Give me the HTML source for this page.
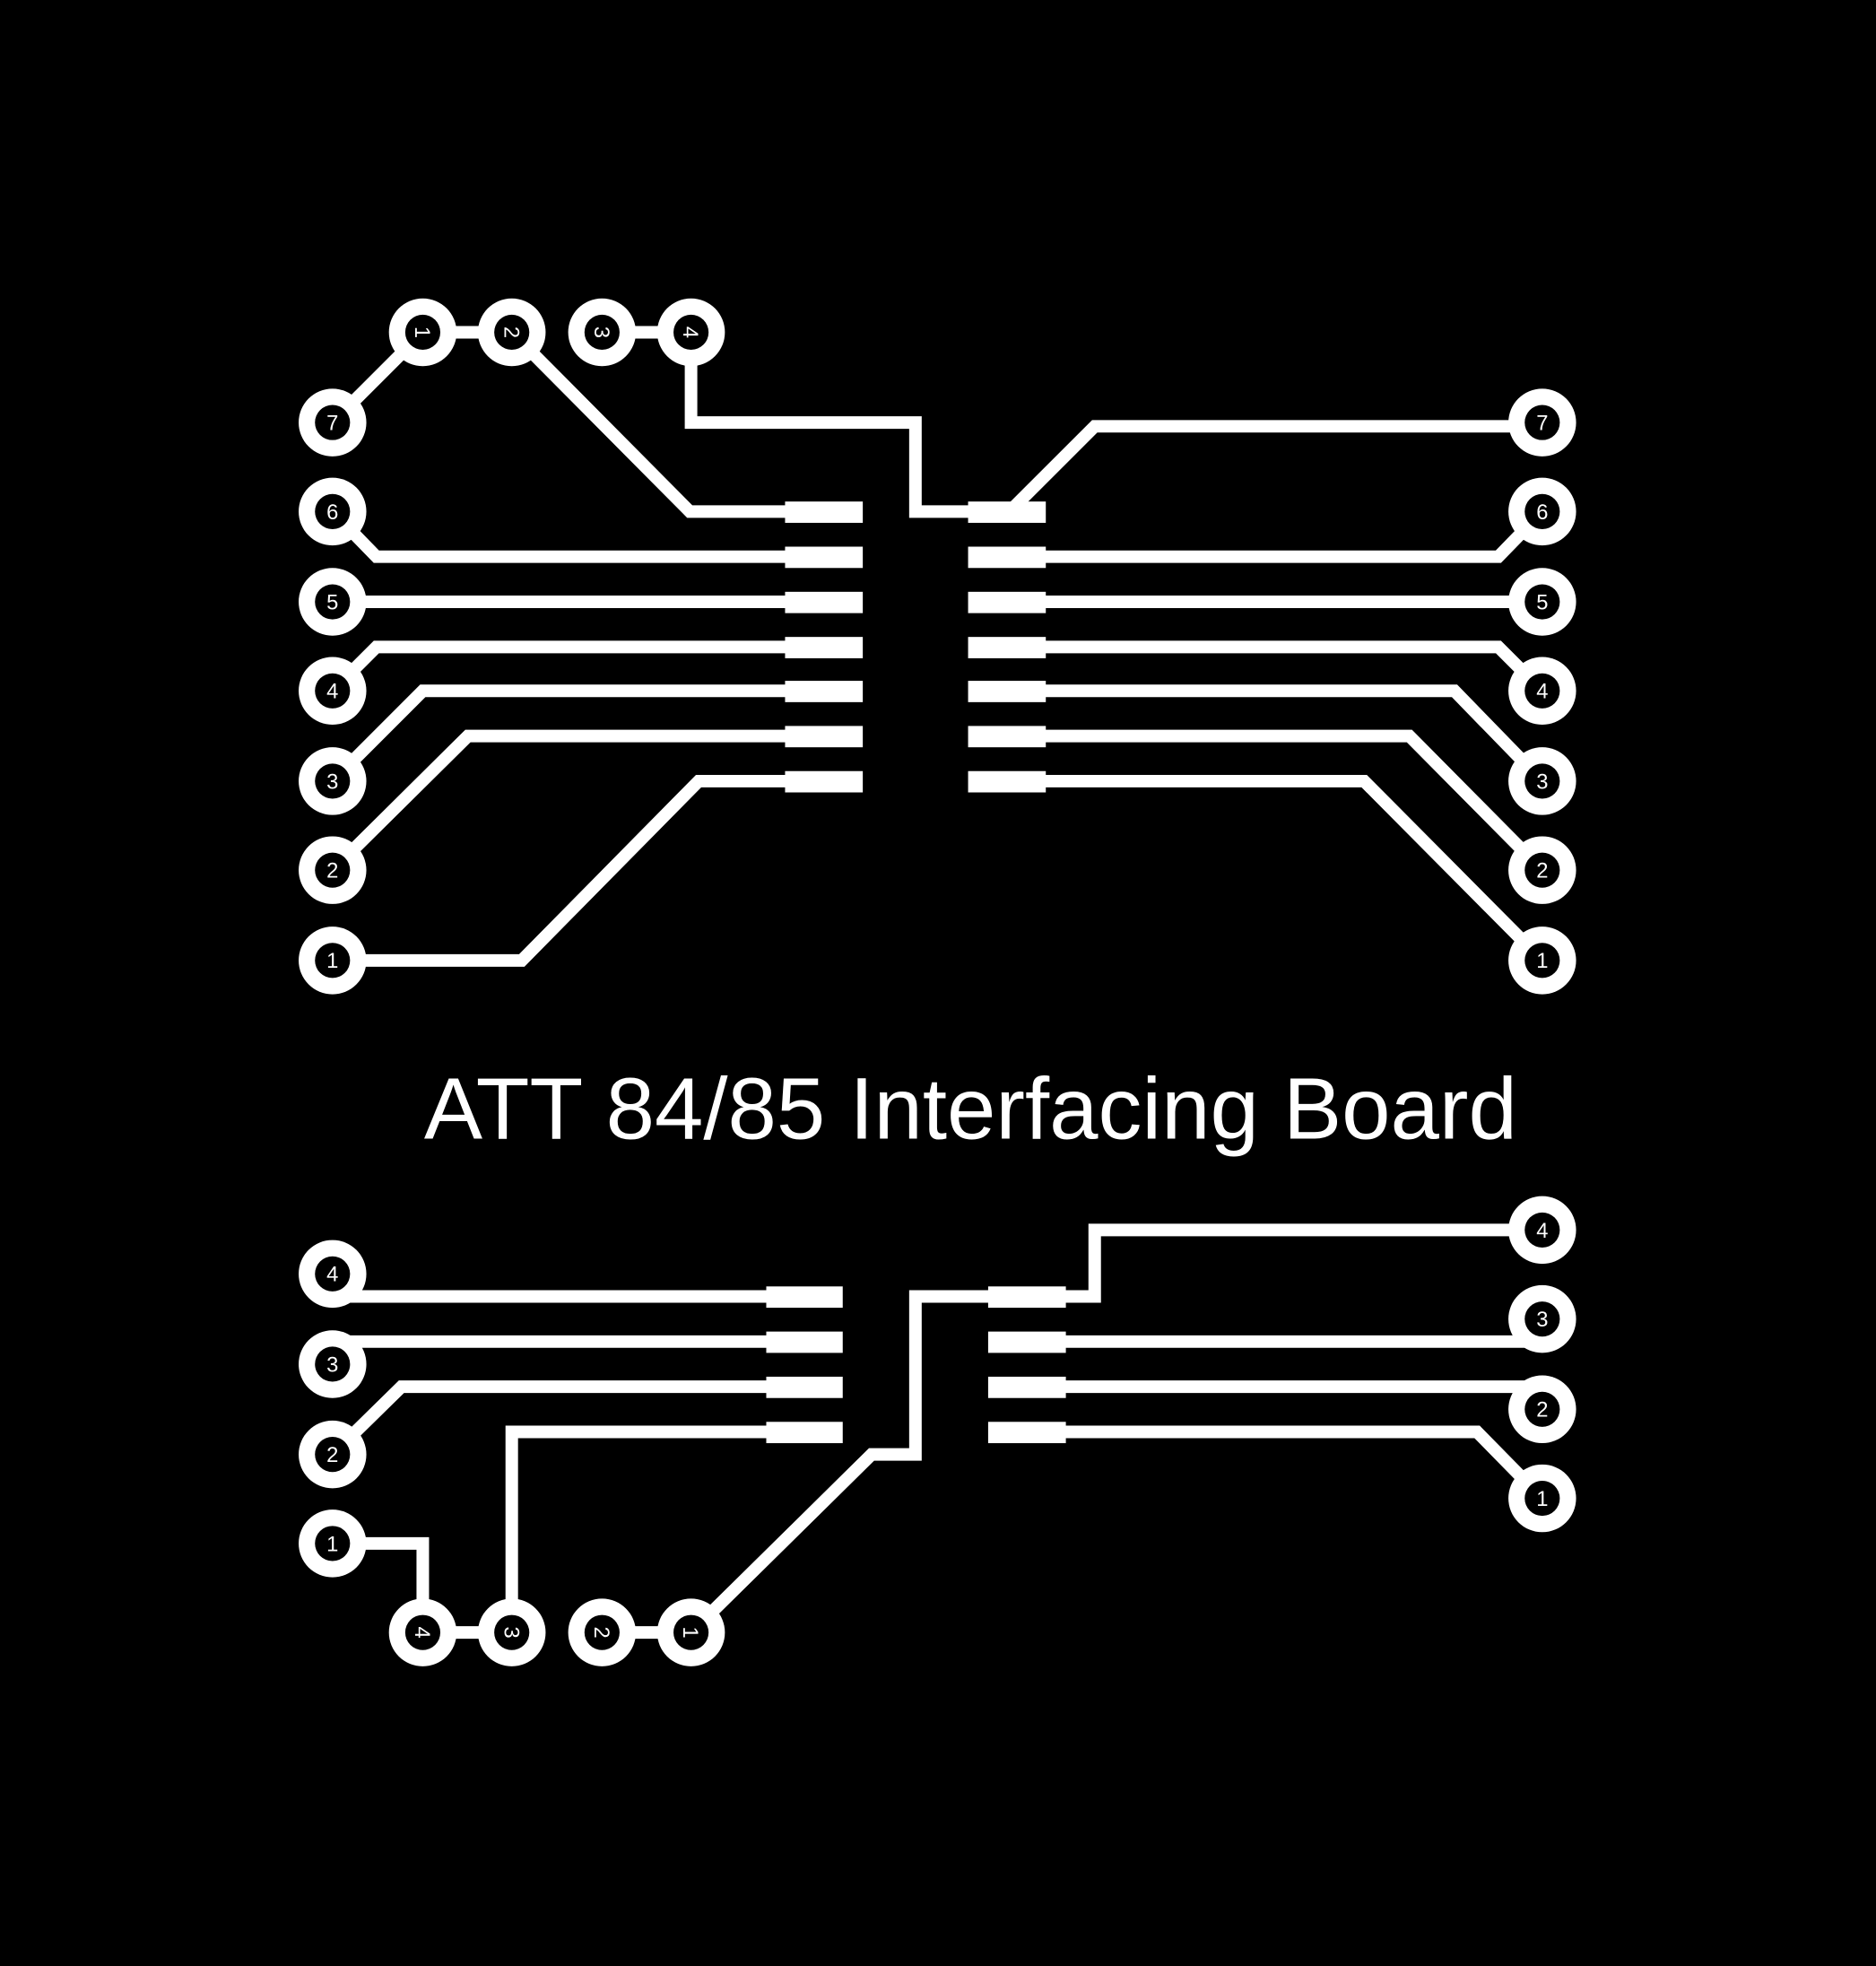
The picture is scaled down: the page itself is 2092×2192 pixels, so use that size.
<!DOCTYPE html>
<html><head><meta charset="utf-8"><style>html,body{margin:0;padding:0;background:#000}svg{display:block}</style></head>
<body>
<svg width="2092" height="2192" viewBox="0 0 1496 1568" xmlns="http://www.w3.org/2000/svg">
<rect width="1496" height="1568" fill="#000"/>
<g stroke="#fff" stroke-width="10" fill="none" stroke-linejoin="miter">
<polyline points="265,337 337,265 408,265 550,408 630,408"/>
<polyline points="480,265 551,265 551,337 730,337 730,408 780,408"/>
<polyline points="805,408 873,340 1230,340"/>
<polyline points="265,408 300,444 630,444"/>
<polyline points="265,480 630,480"/>
<polyline points="265,551 300,516 630,516"/>
<polyline points="265,623 337,551 630,551"/>
<polyline points="265,694 373,587 630,587"/>
<polyline points="265,766 416,766 557,623 630,623"/>
<polyline points="1230,408 1195,444 830,444"/>
<polyline points="1230,480 830,480"/>
<polyline points="1230,551 1195,516 830,516"/>
<polyline points="1230,623 1160,551 830,551"/>
<polyline points="1230,694 1124,587 830,587"/>
<polyline points="1230,766 1088,623 830,623"/>
<polyline points="265,1034 615,1034"/>
<polyline points="265,1070 615,1070"/>
<polyline points="265,1160 320,1106 615,1106"/>
<polyline points="265,1231 337,1231 337,1302 408,1302 408,1142 615,1142"/>
<polyline points="480,1302 551,1302 695,1160 730,1160 730,1034 795,1034"/>
<polyline points="840,1034 873,1034 873,981 1230,981"/>
<polyline points="1230,1070 845,1070"/>
<polyline points="1230,1106 845,1106"/>
<polyline points="1230,1195 1178,1142 845,1142"/>
</g>
<g fill="#fff">
<rect x="626" y="400" width="62" height="17"/><rect x="626" y="436" width="62" height="17"/><rect x="626" y="472" width="62" height="17"/><rect x="626" y="508" width="62" height="17"/><rect x="626" y="543" width="62" height="17"/><rect x="626" y="579" width="62" height="17"/><rect x="626" y="615" width="62" height="17"/>
<rect x="772" y="400" width="62" height="17"/><rect x="772" y="436" width="62" height="17"/><rect x="772" y="472" width="62" height="17"/><rect x="772" y="508" width="62" height="17"/><rect x="772" y="543" width="62" height="17"/><rect x="772" y="579" width="62" height="17"/><rect x="772" y="615" width="62" height="17"/>
<rect x="611" y="1026" width="61" height="17"/><rect x="611" y="1062" width="61" height="17"/><rect x="611" y="1098" width="61" height="17"/><rect x="611" y="1134" width="61" height="17"/>
<rect x="788" y="1026" width="62" height="17"/><rect x="788" y="1062" width="62" height="17"/><rect x="788" y="1098" width="62" height="17"/><rect x="788" y="1134" width="62" height="17"/>
</g>
<g font-family="Liberation Sans, sans-serif" font-size="17" text-anchor="middle">
<!-- pads: cx,cy,label,rot -->
<g id="pads"></g>
</g>
<g font-family="Liberation Sans, sans-serif" font-size="17" text-anchor="middle">
<g transform="translate(337,265)"><circle r="27" fill="#fff"/><circle r="14" fill="#000"/><text y="6" fill="#fff" transform="rotate(90)">1</text></g>
<g transform="translate(408,265)"><circle r="27" fill="#fff"/><circle r="14" fill="#000"/><text y="6" fill="#fff" transform="rotate(90)">2</text></g>
<g transform="translate(480,265)"><circle r="27" fill="#fff"/><circle r="14" fill="#000"/><text y="6" fill="#fff" transform="rotate(90)">3</text></g>
<g transform="translate(551,265)"><circle r="27" fill="#fff"/><circle r="14" fill="#000"/><text y="6" fill="#fff" transform="rotate(90)">4</text></g>
<g transform="translate(265,337)"><circle r="27" fill="#fff"/><circle r="14" fill="#000"/><text y="6" fill="#fff">7</text></g>
<g transform="translate(265,408)"><circle r="27" fill="#fff"/><circle r="14" fill="#000"/><text y="6" fill="#fff">6</text></g>
<g transform="translate(265,480)"><circle r="27" fill="#fff"/><circle r="14" fill="#000"/><text y="6" fill="#fff">5</text></g>
<g transform="translate(265,551)"><circle r="27" fill="#fff"/><circle r="14" fill="#000"/><text y="6" fill="#fff">4</text></g>
<g transform="translate(265,623)"><circle r="27" fill="#fff"/><circle r="14" fill="#000"/><text y="6" fill="#fff">3</text></g>
<g transform="translate(265,694)"><circle r="27" fill="#fff"/><circle r="14" fill="#000"/><text y="6" fill="#fff">2</text></g>
<g transform="translate(265,766)"><circle r="27" fill="#fff"/><circle r="14" fill="#000"/><text y="6" fill="#fff">1</text></g>
<g transform="translate(1230,337)"><circle r="27" fill="#fff"/><circle r="14" fill="#000"/><text y="6" fill="#fff">7</text></g>
<g transform="translate(1230,408)"><circle r="27" fill="#fff"/><circle r="14" fill="#000"/><text y="6" fill="#fff">6</text></g>
<g transform="translate(1230,480)"><circle r="27" fill="#fff"/><circle r="14" fill="#000"/><text y="6" fill="#fff">5</text></g>
<g transform="translate(1230,551)"><circle r="27" fill="#fff"/><circle r="14" fill="#000"/><text y="6" fill="#fff">4</text></g>
<g transform="translate(1230,623)"><circle r="27" fill="#fff"/><circle r="14" fill="#000"/><text y="6" fill="#fff">3</text></g>
<g transform="translate(1230,694)"><circle r="27" fill="#fff"/><circle r="14" fill="#000"/><text y="6" fill="#fff">2</text></g>
<g transform="translate(1230,766)"><circle r="27" fill="#fff"/><circle r="14" fill="#000"/><text y="6" fill="#fff">1</text></g>
<g transform="translate(265,1016)"><circle r="27" fill="#fff"/><circle r="14" fill="#000"/><text y="6" fill="#fff">4</text></g>
<g transform="translate(265,1088)"><circle r="27" fill="#fff"/><circle r="14" fill="#000"/><text y="6" fill="#fff">3</text></g>
<g transform="translate(265,1160)"><circle r="27" fill="#fff"/><circle r="14" fill="#000"/><text y="6" fill="#fff">2</text></g>
<g transform="translate(265,1231)"><circle r="27" fill="#fff"/><circle r="14" fill="#000"/><text y="6" fill="#fff">1</text></g>
<g transform="translate(337,1302)"><circle r="27" fill="#fff"/><circle r="14" fill="#000"/><text y="6" fill="#fff" transform="rotate(90)">4</text></g>
<g transform="translate(408,1302)"><circle r="27" fill="#fff"/><circle r="14" fill="#000"/><text y="6" fill="#fff" transform="rotate(90)">3</text></g>
<g transform="translate(480,1302)"><circle r="27" fill="#fff"/><circle r="14" fill="#000"/><text y="6" fill="#fff" transform="rotate(90)">2</text></g>
<g transform="translate(551,1302)"><circle r="27" fill="#fff"/><circle r="14" fill="#000"/><text y="6" fill="#fff" transform="rotate(90)">1</text></g>
<g transform="translate(1230,981)"><circle r="27" fill="#fff"/><circle r="14" fill="#000"/><text y="6" fill="#fff">4</text></g>
<g transform="translate(1230,1052)"><circle r="27" fill="#fff"/><circle r="14" fill="#000"/><text y="6" fill="#fff">3</text></g>
<g transform="translate(1230,1124)"><circle r="27" fill="#fff"/><circle r="14" fill="#000"/><text y="6" fill="#fff">2</text></g>
<g transform="translate(1230,1195)"><circle r="27" fill="#fff"/><circle r="14" fill="#000"/><text y="6" fill="#fff">1</text></g>
</g>
<text x="774" y="908" fill="#fff" font-family="Liberation Sans, sans-serif" font-size="70" text-anchor="middle" textLength="872" lengthAdjust="spacingAndGlyphs">ATT 84/85 Interfacing Board</text>
</svg>
</body></html>
